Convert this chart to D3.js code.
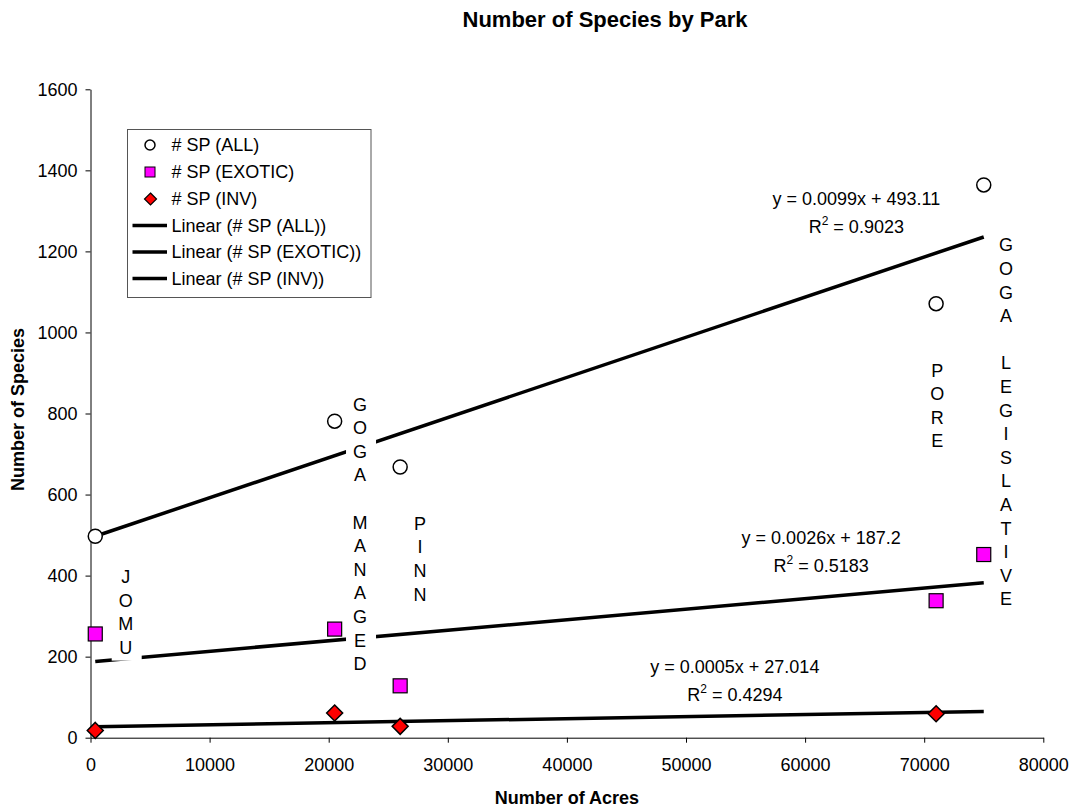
<!DOCTYPE html>
<html>
<head>
<meta charset="utf-8">
<script src="https://cdn.jsdelivr.net/npm/d3@7"></script>
<style>
  body { margin: 0; background: #fff; }
  text { font-family: "Liberation Sans", Arial, sans-serif; fill: #000; }
</style>
</head>
<body>
<div id="chart"></div>
<script>
    // data
    var parkNames = ["JOMU", "GOGA MANAGED", "PINN", "PORE", "GOGA LEGISLATIVE"];
    var acres = [400, 20500, 26000, 71000, 75000];
    var spAll = [497, 781, 668, 1071, 1364];
    var spExotic = [256, 268, 128, 338, 452];
    var spInv = [18, 61, 28, 59, null];

    // trendline equations shown on the chart
    var seriesNames = ["# SP (ALL)", "# SP (EXOTIC)", "# SP (INV)"];
    var slopes = [0.0099, 0.0026, 0.0005];
    var intercepts = [493.11, 187.2, 27.014];
    var eqLabels = ["y = 0.0099x + 493.11", "y = 0.0026x + 187.2", "y = 0.0005x + 27.014"];
    var r2Labels = ["0.9023", "0.5183", "0.4294"];

    // annotation anchors (acres, species)
    var eqAcres = [64300, 61350, 54100];
    var eqSpecies = [1314, 478, 160];
    var labelAcres = [2955, 22630, 27670, 71100, 76870];
    var labelSpecies = [397, 823, 529, 907, 1216];

    var xTicks = [0, 10000, 20000, 30000, 40000, 50000, 60000, 70000, 80000];
    var yTicks = [0, 200, 400, 600, 800, 1000, 1200, 1400, 1600];

    var svgWidth = 1073;
    var svgHeight = 808;

    var margin = { top: 89.3, right: 29.7, bottom: 70.3, left: 90.5 };
    var width = svgWidth - margin.left - margin.right;
    var height = svgHeight - margin.top - margin.bottom;

    var svg = d3.select("#chart")
        .append("svg")
        .attr("width", svgWidth)
        .attr("height", svgHeight);

    var chartGroup = svg.append("g")
        .attr("transform", `translate(${margin.left}, ${margin.top})`);

    var xScale = d3.scaleLinear().domain([0, 80000]).range([0, width]);
    var yScale = d3.scaleLinear().domain([0, 1600]).range([height, 0]);

    // axes
    var bottomAxis = d3.axisBottom(xScale).tickValues(xTicks).tickFormat(d3.format("d"))
        .tickSize(5).tickSizeOuter(0).tickPadding(16);
    var leftAxis = d3.axisLeft(yScale).tickValues(yTicks).tickFormat(d3.format("d"))
        .tickSize(5).tickSizeOuter(0).tickPadding(8);

    var xAxisG = chartGroup.append("g")
        .attr("transform", `translate(0, ${height})`)
        .call(bottomAxis);
    var yAxisG = chartGroup.append("g").call(leftAxis);

    [xAxisG, yAxisG].forEach(function(g) {
        g.selectAll("path, line").attr("stroke", "#000").attr("stroke-width", 1);
        g.selectAll("text").style("font-size", "18px")
            .style("font-family", "'Liberation Sans', Arial, sans-serif").attr("fill", "#000");
    });

    // title and axis titles
    svg.append("text")
        .attr("x", 605).attr("y", 27)
        .attr("text-anchor", "middle")
        .style("font-size", "22px").style("font-weight", "bold")
        .text("Number of Species by Park");

    svg.append("text")
        .attr("x", margin.left + width / 2).attr("y", 804)
        .attr("text-anchor", "middle")
        .style("font-size", "18px").style("font-weight", "bold")
        .text("Number of Acres");

    svg.append("text")
        .attr("transform", `translate(24, ${margin.top + height / 2 - 4}) rotate(-90)`)
        .attr("text-anchor", "middle")
        .style("font-size", "18px").style("font-weight", "bold")
        .text("Number of Species");

    // trendlines
    var xMin = d3.min(acres), xMax = d3.max(acres);
    slopes.forEach(function(m, i) {
        chartGroup.append("line")
            .attr("x1", xScale(xMin)).attr("y1", yScale(m * xMin + intercepts[i]))
            .attr("x2", xScale(xMax)).attr("y2", yScale(m * xMax + intercepts[i]))
            .attr("stroke", "#000").attr("stroke-width", 3.5);
    });

    // equation labels
    eqLabels.forEach(function(t, i) {
        var ex = xScale(eqAcres[i]), ey = yScale(eqSpecies[i]);
        chartGroup.append("text")
            .attr("x", ex).attr("y", ey)
            .attr("text-anchor", "middle")
            .style("font-size", "18px")
            .text(t);
        var r2 = chartGroup.append("text")
            .attr("x", ex).attr("y", ey + 27.7)
            .attr("text-anchor", "middle")
            .style("font-size", "18px");
        r2.append("tspan").text("R");
        r2.append("tspan").attr("dy", -8).style("font-size", "12px").text("2");
        r2.append("tspan").attr("dy", 8).text(" = " + r2Labels[i]);
    });

    // park name labels, one letter per line on a white box
    var lineStep = 23.6;
    parkNames.forEach(function(name, i) {
        var letters = name.split("");
        var lx = xScale(labelAcres[i]), ly = yScale(labelSpecies[i]);
        var g = chartGroup.append("g");
        g.append("rect")
            .attr("x", lx - 14).attr("y", ly - 13)
            .attr("width", 30).attr("height", (letters.length - 1) * lineStep + 26)
            .attr("fill", "#fff");
        letters.forEach(function(ch, k) {
            g.append("text")
                .attr("x", lx).attr("y", ly + k * lineStep + 6.4)
                .attr("text-anchor", "middle")
                .style("font-size", "18px")
                .text(ch);
        });
    });

    // markers
    var symSquare = d3.symbol().type(d3.symbolSquare);
    var symDiamond = d3.symbol().type(d3.symbolSquare);

    chartGroup.selectAll(".ptAll")
        .data(acres.map((a, i) => [a, spAll[i]]))
        .enter().append("circle")
        .attr("cx", d => xScale(d[0])).attr("cy", d => yScale(d[1]))
        .attr("r", 7)
        .attr("fill", "#fff").attr("stroke", "#000").attr("stroke-width", 1.5);

    chartGroup.selectAll(".ptExotic")
        .data(acres.map((a, i) => [a, spExotic[i]]))
        .enter().append("rect")
        .attr("x", d => xScale(d[0]) - 7).attr("y", d => yScale(d[1]) - 7)
        .attr("width", 14).attr("height", 14)
        .attr("fill", "#ff00ff").attr("stroke", "#000").attr("stroke-width", 1.2);

    chartGroup.selectAll(".ptInv")
        .data(acres.map((a, i) => [a, spInv[i]]).filter(d => d[1] != null))
        .enter().append("path")
        .attr("d", "M0,-8L8,0L0,8L-8,0Z")
        .attr("transform", d => `translate(${xScale(d[0])}, ${yScale(d[1])})`)
        .attr("fill", "#ff0000").attr("stroke", "#000").attr("stroke-width", 1.5);

    // legend
    var legend = svg.append("g");
    legend.append("rect")
        .attr("x", 127.5).attr("y", 129.5)
        .attr("width", 243.5).attr("height", 168)
        .attr("fill", "#fff").attr("stroke", "#555").attr("stroke-width", 1);

    var legendItems = seriesNames.concat(seriesNames.map(s => "Linear (" + s + ")"));
    var rowY = [145, 172, 199, 225.5, 252, 278.5];
    legendItems.forEach(function(label, i) {
        var cy = rowY[i];
        if (i === 0) {
            legend.append("circle").attr("cx", 150).attr("cy", cy).attr("r", 5)
                .attr("fill", "#fff").attr("stroke", "#000").attr("stroke-width", 1.5);
        } else if (i === 1) {
            legend.append("rect").attr("x", 145).attr("y", cy - 5).attr("width", 10).attr("height", 10)
                .attr("fill", "#ff00ff").attr("stroke", "#000").attr("stroke-width", 1);
        } else if (i === 2) {
            legend.append("path").attr("d", "M0,-6L6,0L0,6L-6,0Z")
                .attr("transform", `translate(150.5, ${cy})`)
                .attr("fill", "#ff0000").attr("stroke", "#000").attr("stroke-width", 1.2);
        } else {
            legend.append("line").attr("x1", 132.5).attr("x2", 167).attr("y1", cy).attr("y2", cy)
                .attr("stroke", "#000").attr("stroke-width", 3.5);
        }
        legend.append("text")
            .attr("x", 171.5).attr("y", cy + 6.4)
            .style("font-size", "18px")
            .text(label);
    });
</script>
</body>
</html>
